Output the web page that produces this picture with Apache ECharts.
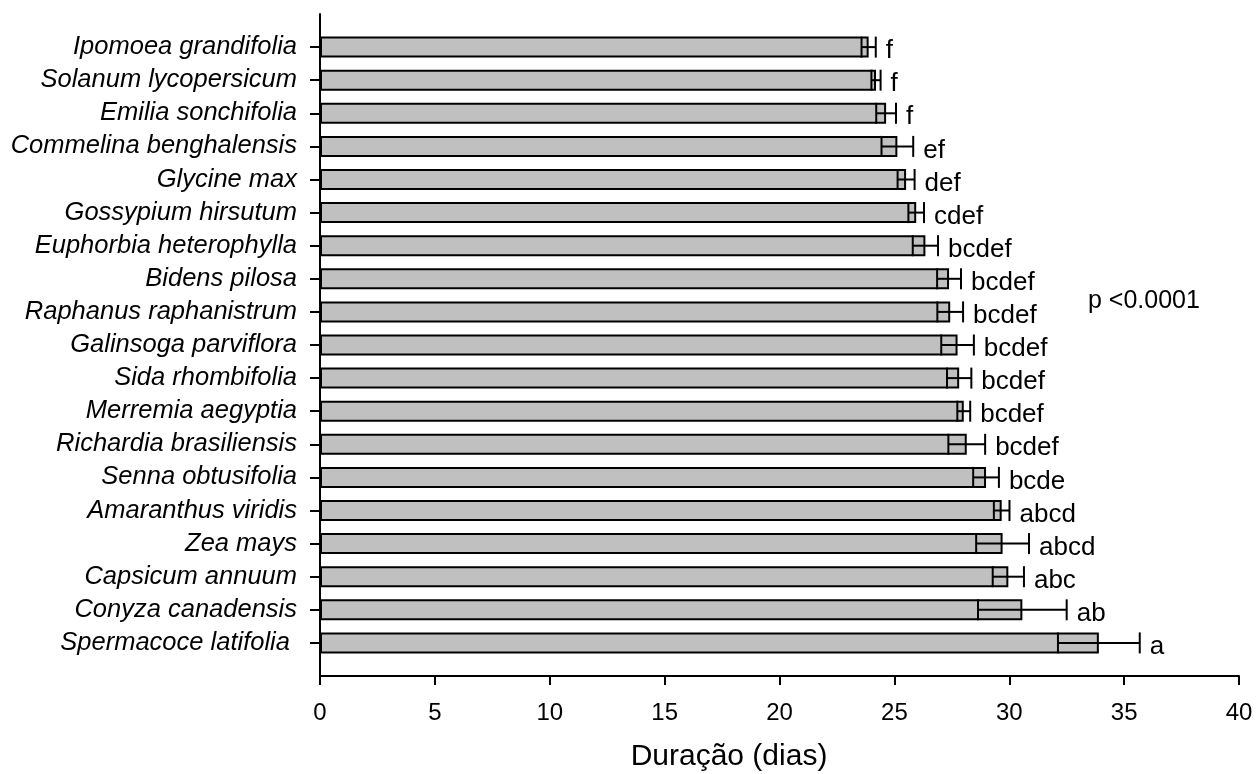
<!DOCTYPE html>
<html>
<head>
<meta charset="utf-8">
<script src="https://cdn.jsdelivr.net/npm/echarts@6/dist/echarts.min.js"></script>
<style>
html,body{margin:0;padding:0;background:#fff;}
#chart{width:1257px;height:774px;}
</style>
</head>
<body>
<div id="chart"></div>
<script>
var species = [
  'Ipomoea grandifolia', 'Solanum lycopersicum', 'Emilia sonchifolia', 'Commelina benghalensis',
  'Glycine max', 'Gossypium hirsutum', 'Euphorbia heterophylla', 'Bidens pilosa',
  'Raphanus raphanistrum', 'Galinsoga parviflora', 'Sida rhombifolia', 'Merremia aegyptia',
  'Richardia brasiliensis', 'Senna obtusifolia', 'Amaranthus viridis', 'Zea mays',
  'Capsicum annuum', 'Conyza canadensis', 'Spermacoce latifolia '
];
var meanDays = [23.88, 24.2, 24.64, 25.13, 25.51, 25.95, 26.35, 27.38, 27.43, 27.75,
                27.82, 28.02, 28.15, 28.99, 29.67, 29.71, 29.96, 30.57, 33.9];
var seDays = [0.31, 0.2, 0.43, 0.69, 0.37, 0.34, 0.55, 0.52, 0.56, 0.71,
              0.53, 0.28, 0.8, 0.56, 0.34, 1.15, 0.68, 1.93, 1.78];
var letters = ['f', 'f', 'f', 'ef', 'def', 'cdef', 'bcdef', 'bcdef', 'bcdef', 'bcdef',
               'bcdef', 'bcdef', 'bcdef', 'bcde', 'abcd', 'abcd', 'abc', 'ab', 'a'];
var xTicks = [0, 5, 10, 15, 20, 25, 30, 35, 40];
var xTitle = 'Duração (dias)';
var pText = 'p <0.0001';

// padded category list (empty slot at each end, as in the original axis)
var cats = [''].concat(species).concat(['']);
var barData = [null].concat(meanDays).concat([null]);
var errData = meanDays.map(function (m, i) { return [m - seDays[i], m + seDays[i], i + 1]; });

var chart = echarts.init(document.getElementById('chart'));
var BAR_H = 21;
chart.setOption({
  backgroundColor: '#ffffff',
  animation: false,
  grid: { left: 320, right: 18, top: 14, bottom: 98, containLabel: false },
  xAxis: {
    type: 'value',
    min: xTicks[0], max: xTicks[xTicks.length - 1], interval: xTicks[1] - xTicks[0],
    splitLine: { show: false },
    axisLine: { show: true, lineStyle: { color: '#000', width: 2 } },
    axisTick: { show: true, length: 9, lineStyle: { color: '#000', width: 2 } },
    axisLabel: { margin: 25, color: '#000', fontSize: 24, fontFamily: 'Liberation Sans, Arial, sans-serif' }
  },
  yAxis: {
    type: 'category',
    data: cats,
    inverse: true,
    boundaryGap: false,
    axisLine: { show: true, lineStyle: { color: '#000', width: 2 } },
    axisTick: {
      show: true, length: 10, inside: false,
      interval: function (index, value) { return value !== ''; },
      lineStyle: { color: '#000', width: 2 }
    },
    axisLabel: {
      interval: 0, margin: 23, color: '#000', fontSize: 25.5, fontStyle: 'italic',
      fontFamily: 'Liberation Sans, Arial, sans-serif'
    },
    splitLine: { show: false }
  },
  graphic: [
    { type: 'text', x: 729, y: 757,
      style: { text: xTitle, fill: '#000', font: '30px "Liberation Sans", Arial, sans-serif',
               align: 'center', verticalAlign: 'middle' } },
    { type: 'text', x: 1088, y: 301,
      style: { text: pText, fill: '#000', font: '25px "Liberation Sans", Arial, sans-serif',
               align: 'left', verticalAlign: 'middle' } }
  ],
  series: [
    {
      type: 'bar',
      data: barData,
      barWidth: BAR_H,
      itemStyle: { color: '#c0c0c0', borderColor: '#000', borderWidth: 2 },
      z: 2
    },
    {
      type: 'custom',
      data: errData,
      encode: { x: [0, 1], y: 2 },
      z: 3,
      renderItem: function (params, api) {
        var y = api.value(2);
        var p1 = api.coord([api.value(0), y]);
        var p2 = api.coord([api.value(1), y]);
        var h = BAR_H / 2;
        var st = { stroke: '#000', lineWidth: 2 };
        return {
          type: 'group',
          children: [
            { type: 'line', shape: { x1: p1[0], y1: p1[1], x2: p2[0], y2: p2[1] }, style: st },
            { type: 'line', shape: { x1: p1[0], y1: p1[1] - h, x2: p1[0], y2: p1[1] + h }, style: st },
            { type: 'line', shape: { x1: p2[0], y1: p2[1] - h, x2: p2[0], y2: p2[1] + h }, style: st },
            { type: 'text', x: p2[0] + 10, y: p2[1] + 4,
              style: { text: letters[params.dataIndex], fill: '#000',
                       font: '26px "Liberation Sans", Arial, sans-serif',
                       align: 'left', verticalAlign: 'middle' } }
          ]
        };
      }
    }
  ]
});
</script>
</body>
</html>
